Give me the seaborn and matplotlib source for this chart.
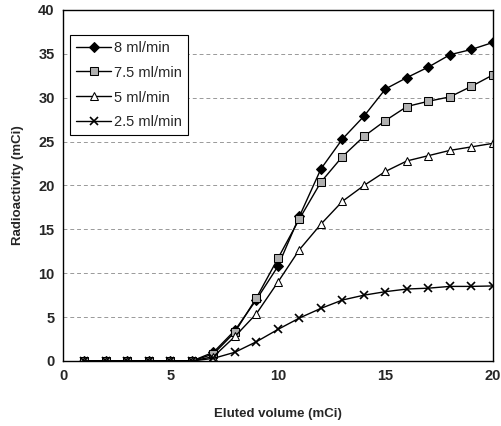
import numpy as np
import pandas as pd
import matplotlib
matplotlib.use("Agg")
import matplotlib.pyplot as plt
import seaborn as sns

# data
volume = list(range(1, 21))
flow_8 = [0, 0, 0, 0, 0, 0, 1.0, 3.5, 7.0, 10.8, 16.5, 21.9, 25.3, 27.9, 31.0, 32.3, 33.5, 34.9, 35.5, 36.3]
flow_75 = [0, 0, 0, 0, 0, 0, 0.8, 3.3, 7.2, 11.7, 16.2, 20.4, 23.3, 25.6, 27.4, 29.0, 29.6, 30.1, 31.3, 32.6]
flow_5 = [0, 0, 0, 0, 0, 0, 0.5, 2.8, 5.4, 9.0, 12.7, 15.6, 18.2, 20.0, 21.6, 22.8, 23.4, 24.0, 24.4, 24.8]
flow_25 = [0, 0, 0, 0, 0, 0, 0.3, 1.0, 2.2, 3.6, 4.9, 6.0, 6.95, 7.5, 7.9, 8.2, 8.3, 8.5, 8.5, 8.55]
labels = ["8 ml/min", "7.5 ml/min", "5 ml/min", "2.5 ml/min"]

df = pd.DataFrame({"volume": volume * 4,
                   "activity": flow_8 + flow_75 + flow_5 + flow_25,
                   "flow": [l for l in labels for _ in volume]})

sns.set_style("white")
plt.rcParams['font.family'] = ['Liberation Sans', 'DejaVu Sans']

fig = plt.figure(figsize=(5.02, 4.26), dpi=100)
ax = fig.add_axes([0.1255, 0.1526, 0.8565, 0.824])

marker_style = {
    "8 ml/min": dict(marker="D", markersize=5, markerfacecolor="black", markeredgecolor="black"),
    "7.5 ml/min": dict(marker="s", markersize=5.5, markerfacecolor="#b0b0b0", markeredgecolor="black"),
    "5 ml/min": dict(marker="^", markersize=6, markerfacecolor="white", markeredgecolor="black"),
    "2.5 ml/min": dict(marker="x", markersize=6, markeredgecolor="black", markeredgewidth=1.2),
}

for lab in labels:
    sub = df[df["flow"] == lab]
    sns.lineplot(data=sub, x="volume", y="activity", ax=ax, color="black",
                 linewidth=1.0, label=lab, **marker_style[lab])

ax.set_xlim(0, 20)
ax.set_ylim(0, 40)
ax.set_xticks([0, 5, 10, 15, 20])
ax.set_yticks(range(0, 45, 5))
ax.set_axisbelow(True)
ax.grid(True, axis="y", color="#999999", linestyle=(0, (4, 3)), linewidth=0.7)
ax.tick_params(which="both", length=0, labelsize=10.5, pad=6)
for t in ax.get_xticklabels() + ax.get_yticklabels():
    t.set_fontweight("bold")

for s in ax.spines.values():
    s.set_color("black")
    s.set_linewidth(1.0)
    s.set_zorder(3)

ax.set_xlabel("Eluted volume (mCi)", fontsize=9.5, fontweight="bold", labelpad=18)
ax.set_ylabel("Radioactivity (mCi)", fontsize=9.5, fontweight="bold", labelpad=10)

leg = ax.legend(loc="upper left", bbox_to_anchor=(0.0, 0.95), fontsize=10.5,
                frameon=True, fancybox=False, framealpha=1, edgecolor="black",
                handlelength=2.4, handletextpad=0.2, labelspacing=0.75, borderpad=0.4)
leg.get_frame().set_linewidth(0.8)

fig.savefig("out.png", dpi=100)
